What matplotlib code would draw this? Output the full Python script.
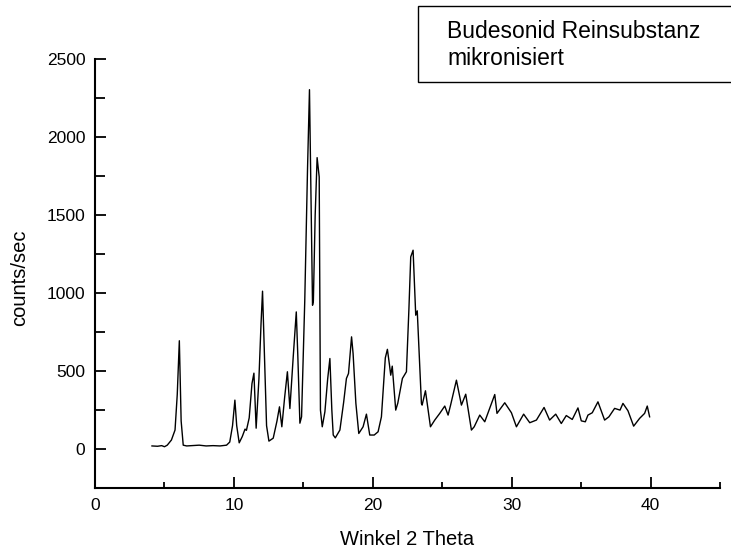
import matplotlib
matplotlib.use("Agg")
import matplotlib.pyplot as plt
from matplotlib.patches import Rectangle
from matplotlib.ticker import MultipleLocator

plt.rcParams['font.family'] = ['Liberation Sans', 'DejaVu Sans']

# Diffraktogramm
two_theta = [4.1, 4.5, 4.8, 5.0, 5.2, 5.5, 5.76, 5.92, 6.07, 6.2, 6.35, 6.6, 7.0, 7.5,
             8.0, 8.5, 9.0, 9.47, 9.7, 9.9, 10.07, 10.2, 10.38, 10.6, 10.8, 10.9,
             11.1, 11.3, 11.44, 11.6, 11.8, 11.95, 12.06, 12.2, 12.35, 12.52, 12.83,
             13.1, 13.28, 13.45, 13.65, 13.85, 14.03, 14.27, 14.49, 14.6, 14.75,
             14.87, 15.1, 15.3, 15.44, 15.55, 15.66, 15.72, 15.85, 15.99, 16.14,
             16.23, 16.36, 16.55, 16.75, 16.91, 17.05, 17.15, 17.3, 17.63, 17.9,
             18.1, 18.25, 18.47, 18.58, 18.78, 18.99, 19.3, 19.54, 19.78, 20.1,
             20.38, 20.62, 20.9, 21.05, 21.2, 21.29, 21.4, 21.65, 21.8, 22.13,
             22.42, 22.6, 22.73, 22.9, 23.09, 23.2, 23.5, 23.55, 23.79, 24.15,
             24.46, 24.82, 25.18, 25.42, 25.6, 26.02, 26.38, 26.69, 27.1, 27.3,
             27.7, 28.06, 28.54, 28.78, 28.94, 29.5, 29.98, 30.34, 30.86, 31.3,
             31.78, 32.33, 32.73, 33.17, 33.57, 33.93, 34.36, 34.77, 35.01, 35.3,
             35.49, 35.8, 36.21, 36.69, 37.0, 37.41, 37.8, 38.01, 38.37, 38.78,
             39.21, 39.57, 39.76, 39.93]
counts = [20, 18, 22, 15, 25, 58, 122, 350, 695, 180, 25, 20, 22, 25,
          20, 22, 20, 25, 45, 150, 314, 150, 40, 80, 128, 120,
          200, 420, 487, 134, 450, 800, 1013, 600, 150, 51, 70,
          180, 271, 143, 330, 496, 260, 592, 880, 600, 166,
          207, 950, 1800, 2306, 1600, 923, 950, 1500, 1870, 1746,
          250, 143, 239, 450, 581, 250, 90, 72, 122, 300,
          453, 485, 720, 613, 294, 100, 143, 224, 90, 90,
          111, 207, 585, 640, 540, 474, 532, 250, 295, 453,
          496, 900, 1233, 1276, 859, 887, 293, 282, 374, 143,
          186, 229, 276, 218, 282, 442, 282, 352, 122, 143,
          218, 175, 293, 350, 229, 297, 233, 143, 224, 169,
          186, 267, 186, 224, 164, 215, 190, 264, 181, 175,
          218, 233, 303, 186, 207, 261, 250, 293, 246, 147,
          197, 229, 276, 207]

fig = plt.figure(figsize=(7.31, 5.53), dpi=100)
ax = fig.add_axes([0.130, 0.1175, 0.855, 0.775])

ax.plot(two_theta, counts, color='black', linewidth=1.0)

ax.set_xlim(0, 45)
ax.set_ylim(-250, 2500)
ax.xaxis.set_major_locator(MultipleLocator(10))
ax.xaxis.set_minor_locator(MultipleLocator(5))
ax.yaxis.set_major_locator(MultipleLocator(500))
ax.yaxis.set_minor_locator(MultipleLocator(250))

ax.spines['top'].set_visible(False)
ax.spines['right'].set_visible(False)
ax.spines['left'].set_linewidth(1.5)
ax.spines['bottom'].set_linewidth(1.5)

ax.tick_params(axis='both', which='major', direction='in', length=8, width=1.3,
               labelsize=12.5, pad=7)
ax.tick_params(axis='x', which='minor', direction='in', length=4, width=1.3)
ax.tick_params(axis='y', which='minor', direction='in', length=7, width=1.3)

ax.set_xlabel('Winkel 2 Theta', fontsize=14.5, va='center')
ax.xaxis.set_label_coords(0.5, -0.121)
ax.set_ylabel('counts/sec', fontsize=14.5, va='center')
ax.yaxis.set_label_coords(-0.12, 0.49)

# Kasten oben rechts
fig.patches.append(Rectangle((418 / 731, 1 - 82 / 553), 0.6, 76 / 553,
                             transform=fig.transFigure, facecolor='white',
                             edgecolor='black', linewidth=1.0))
fig.text(447 / 731, 1 - 38 / 553, 'Budesonid Reinsubstanz', fontsize=16.5)
fig.text(447 / 731, 1 - 65 / 553, 'mikronisiert', fontsize=16.5)

fig.savefig('out.png', dpi=100)
